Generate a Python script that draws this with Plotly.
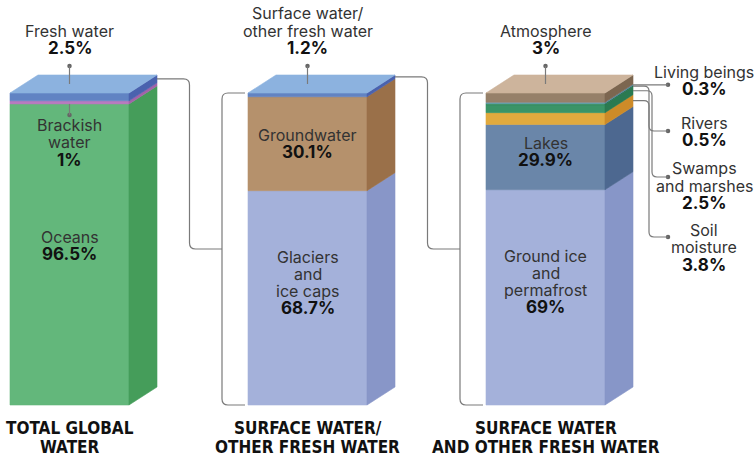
import plotly.graph_objects as go

# ---------------- data ----------------
categories = [["TOTAL GLOBAL", "WATER"],
              ["SURFACE WATER/", "OTHER FRESH WATER"],
              ["SURFACE WATER", "AND OTHER FRESH WATER"]]

# bottom -> top
total_names = ["Oceans", "Brackish water", "Fresh water"]
total_values = [96.5, 1.0, 2.5]
total_labels = ["96.5%", "1%", "2.5%"]

fresh_names = ["Glaciers and ice caps", "Groundwater", "Surface water/other fresh water"]
fresh_values = [68.7, 30.1, 1.2]
fresh_labels = ["68.7%", "30.1%", "1.2%"]

surface_names = ["Ground ice and permafrost", "Lakes", "Soil moisture",
                 "Swamps and marshes", "Rivers", "Living beings", "Atmosphere"]
surface_values = [69.0, 20.9, 3.8, 2.5, 0.5, 0.3, 3.0]
surface_labels = ["69%", "29.9%", "3.8%", "2.5%", "0.5%", "0.3%", "3%"]

# ---------------- style ----------------
total_text = [["Oceans"], ["Brackish", "water"], ["Fresh water"]]
fresh_text = [["Glaciers", "and", "ice caps"], ["Groundwater"], ["Surface water/", "other fresh water"]]
surface_text = [["Ground ice", "and", "permafrost"], ["Lakes"], ["Soil", "moisture"],
                ["Swamps", "and marshes"], ["Rivers"], ["Living beings"], ["Atmosphere"]]

total_front = ["#63b77b", "#b87bbf", "#6183c3"]
total_side = ["#459d5a", "#a263a9", "#4a62ae"]
fresh_front = ["#a4b1da", "#b5916c", "#6283c2"]
fresh_side = ["#8896c8", "#9a7049", "#4a62ae"]
surface_front = ["#a4b1da", "#6a86a9", "#e1aa3e", "#3a9467", "#33895f", "#6ea4c6", "#968069"]
surface_side = ["#8796c8", "#4d6890", "#cd8b28", "#2a7a51", "#26704c", "#5a90b5", "#7c6650"]
top_colors = ["#8cb2df", "#8cb2df", "#cdb49c"]

LINE_C = "#7a7a7a"
DOT_C = "#666666"
REG_FONT = dict(family="Inter, Roboto, sans-serif", size=16, color="#333333")
BOLD_FONT = dict(family="Inter, Roboto, sans-serif", size=17, color="#111111")
CAT_FONT = dict(family="Liberation Sans Narrow, DejaVu Sans Condensed, sans-serif", size=17, color="#111111")

W, H = 755, 457
X0_PX, UNIT_PX, BASE_PX, PCT_PX = 10, 119, 405, 3.12
BAR_POS = [0, 2, 4]
DX = 28 / UNIT_PX
DY = 18 / PCT_PX


def to_px(x, y):
    return X0_PX + x * UNIT_PX, BASE_PX - y * PCT_PX


def from_px(px, py):
    return (px - X0_PX) / UNIT_PX, (BASE_PX - py) / PCT_PX


fig = go.Figure()
bars = [
    (total_values, total_front, total_side),
    (fresh_values, fresh_front, fresh_side),
    (surface_values, surface_front, surface_side),
]


def poly(xs, ys, color):
    fig.add_trace(go.Scatter(x=xs + [xs[0]], y=ys + [ys[0]], mode="lines", fill="toself",
                             fillcolor=color, line=dict(color=color, width=0.6),
                             hoverinfo="skip", showlegend=False))


bounds = []
for bi, (vals, fr, sd) in enumerate(bars):
    x0 = BAR_POS[bi]
    base = 0
    b = []
    for v, cf, cs in zip(vals, fr, sd):
        y0, y1 = base, base + v
        poly([x0, x0 + 1, x0 + 1, x0], [y0, y0, y1, y1], cf)
        poly([x0 + 1, x0 + 1 + DX, x0 + 1 + DX, x0 + 1], [y0, y0 + DY, y1 + DY, y1], cs)
        b.append((y0, y1))
        base = y1
    top = base
    poly([x0, x0 + 1, x0 + 1 + DX, x0 + DX], [top, top, top + DY, top + DY], top_colors[bi])
    bounds.append(b)

shapes = []


def rounded_path(points, r=6):
    p = [to_px(x, y) for x, y in points]
    segs = []
    fx = lambda q: "%.5f,%.5f" % from_px(*q)
    segs.append("M " + fx(p[0]))
    for i in range(1, len(p) - 1):
        a, v, c = p[i - 1], p[i], p[i + 1]
        def toward(s, t, d):
            lx, ly = t[0] - s[0], t[1] - s[1]
            L = (lx * lx + ly * ly) ** 0.5
            d = min(d, L / 2)
            return (s[0] + lx / L * d, s[1] + ly / L * d)
        p1 = toward(v, a, r)
        p2 = toward(v, c, r)
        segs.append("L " + fx(p1))
        segs.append("Q " + fx(v) + " " + fx(p2))
    segs.append("L " + fx(p[-1]))
    return " ".join(segs)


def add_path(points, r=6):
    shapes.append(dict(type="path", path=rounded_path(points, r), xref="x", yref="y",
                       line=dict(color=LINE_C, width=1.2), layer="above"))


dots_x, dots_y = [], []

# brackets linking bars
for bi in range(2):
    xb = BAR_POS[bi] + 1 + DX
    top_seg = bounds[bi][-1]
    ys = (top_seg[0] + top_seg[1]) / 2 + DY
    nxt = BAR_POS[bi + 1]
    brx = nxt - 26 / UNIT_PX
    elbow = (xb + brx) / 2
    topn = bounds[bi + 1][-1][1]
    add_path([(xb, ys), (elbow, ys), (elbow, topn / 2), (brx, topn / 2)])
    add_path([(nxt - 3 / UNIT_PX, topn), (brx, topn), (brx, 0), (nxt - 3 / UNIT_PX, 0)])

annotations = []


def text_lines(x, y, lines, first_off, pitch=17.0):
    for i, ln in enumerate(lines):
        annotations.append(dict(x=x, y=y, xref="x", yref="y", text=ln, showarrow=False,
                                xanchor="center", yanchor="middle",
                                yshift=-(first_off + i * pitch), font=REG_FONT))


def bold_line(x, y, txt, off):
    annotations.append(dict(x=x, y=y, xref="x", yref="y", text="<b>%s</b>" % txt, showarrow=False,
                            xanchor="center", yanchor="middle", yshift=-off, font=BOLD_FONT))


# top labels (top segment of each bar)
tops_text = [total_text[-1], fresh_text[-1], surface_text[-1]]
tops_lab = [total_labels[-1], fresh_labels[-1], surface_labels[-1]]
for bi in range(3):
    xc = BAR_POS[bi] + 0.5
    top = bounds[bi][-1][1]
    yface = top + DY / 2
    ydot = yface + 18 / PCT_PX
    shapes.append(dict(type="line", x0=xc, x1=xc, y0=yface, y1=ydot, xref="x", yref="y",
                       line=dict(color=LINE_C, width=1.2), layer="above"))
    dots_x.append(xc); dots_y.append(ydot)
    lines = tops_text[bi]
    n = len(lines)
    bold_line(xc, ydot, tops_lab[bi], -18)
    text_lines(xc, ydot, lines, -18 - 17.5 * n, 17.5)

# brackish leader
xc = BAR_POS[0] + 0.5
yb = bounds[0][1][0]
ydot_b = yb - 11 / PCT_PX
shapes.append(dict(type="line", x0=xc, x1=xc, y0=yb, y1=ydot_b, xref="x", yref="y",
                   line=dict(color=LINE_C, width=1.2), layer="above"))
dots_x.append(xc); dots_y.append(ydot_b)
text_lines(xc, ydot_b, total_text[1], 10, 17.5)
bold_line(xc, ydot_b, total_labels[1], 10 + 17.5 * 2)

# in-bar labels: (bar, segment, first-line offset px from segment middle)
inbar = [(0, 0, -17.5), (1, 0, -41.3), (1, 1, -8.7), (2, 0, -41.0), (2, 1, -14.0)]
texts = [total_text, fresh_text, surface_text]
labs = [total_labels, fresh_labels, surface_labels]
for bi, si, off in inbar:
    xc = BAR_POS[bi] + 0.5
    y0, y1 = bounds[bi][si]
    ym = (y0 + y1) / 2
    lines = texts[bi][si]
    text_lines(xc, ym, lines, off, 17.0)
    bold_line(xc, ym, labs[bi][si], off + 17.0 * len(lines))

# right-hand callouts for bar 3: (segment, elbow offset px, dot y px, first-line offset px)
callouts = [(5, None, None, -13.0), (4, 16, 131, -8.5), (3, 19, 177, -9.0), (2, 16, 237, -7.5)]
xb = BAR_POS[2] + 1 + DX
xdot = xb + 35 / UNIT_PX
xlab = from_px(704, 0)[0]
for si, elb, dpy, off in callouts:
    y0, y1 = bounds[2][si]
    ys = (y0 + y1) / 2 + DY
    if elb is None:
        ydot = ys
        add_path([(xb, ys), (xdot, ys)])
    else:
        ydot = from_px(0, dpy)[1]
        xe = xb + elb / UNIT_PX
        add_path([(xb, ys), (xe, ys), (xe, ydot), (xdot, ydot)], r=5)
    dots_x.append(xdot); dots_y.append(ydot)
    lines = surface_text[si]
    text_lines(xlab, ydot, lines, off, 17.5)
    bold_line(xlab, ydot, surface_labels[si], off + 17.5 * len(lines))

fig.add_trace(go.Scatter(x=dots_x, y=dots_y, mode="markers",
                         marker=dict(size=4.5, color=DOT_C), hoverinfo="skip", showlegend=False,
                         cliponaxis=False))

# category labels under bars
for bi, cat in enumerate(categories):
    xc = BAR_POS[bi] + 0.5
    for li, ln in enumerate(cat):
        annotations.append(dict(x=xc, y=0, xref="x", yref="y", text="<b>%s</b>" % ln,
                                showarrow=False, xanchor="center", yanchor="middle",
                                yshift=-(23 + 19 * li), font=CAT_FONT))

xr0, yr1 = from_px(0, 0)
xr1, yr0 = from_px(W, H)
fig.update_layout(
    width=W, height=H, margin=dict(l=0, r=0, t=0, b=0),
    paper_bgcolor="white", plot_bgcolor="white",
    xaxis=dict(range=[xr0, xr1], visible=False, fixedrange=True),
    yaxis=dict(range=[yr0, yr1], visible=False, fixedrange=True),
    shapes=shapes, annotations=annotations, showlegend=False,
)
fig.write_html("out.html")
